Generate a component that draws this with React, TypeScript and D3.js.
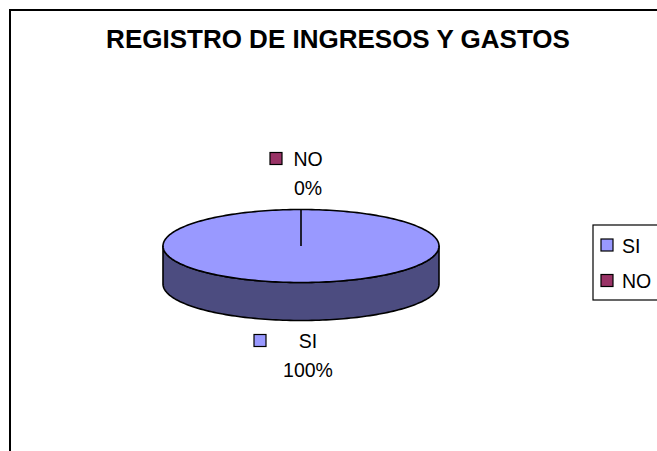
import React from 'react';
import * as d3 from 'd3';

const title = 'REGISTRO DE INGRESOS Y GASTOS';
const categories = ['SI', 'NO'];
const values = [100, 0];
const colors = ['#9999FF', '#993366'];
const sideColors = ['#4C4C80', '#4D1A33'];

const W = 657;
const H = 451;
const cx = 301;
const cy = 246;
const rx = 138;
const ry = 36.5;
const depth = 38;
const font = '"Liberation Sans", Arial, sans-serif';

// ellipse point for a d3 pie angle (0 = 12 o'clock, clockwise)
const pt = (a: number, dy = 0): [number, number] => [cx + rx * Math.sin(a), cy - ry * Math.cos(a) + dy];

const App = () => {
  const total = d3.sum(values);
  const arcs = d3.pie<number>().sort(null).value(d => d)(values);
  const line = d3.line();

  // visible wall: front half, angles PI/2 .. 3PI/2
  const sides = arcs.map((a, i) => {
    const s = Math.max(a.startAngle, Math.PI / 2);
    const e = Math.min(a.endAngle, Math.PI * 1.5);
    if (e <= s) return null;
    const n = 120;
    const top = d3.range(n + 1).map(k => pt(s + ((e - s) * k) / n));
    const bot = top.slice().reverse().map(p => [p[0], p[1] + depth] as [number, number]);
    return { i, d: line([...top, ...bot]) + 'Z' };
  }).filter(Boolean) as { i: number; d: string }[];

  const tops = arcs.map((a, i) => {
    if (a.endAngle - a.startAngle <= 0) return null;
    const n = 240;
    const pts = d3.range(n + 1).map(k => pt(a.startAngle + ((a.endAngle - a.startAngle) * k) / n));
    const full = a.endAngle - a.startAngle >= Math.PI * 2 - 1e-9;
    return { i, d: full ? line(pts) + 'Z' : line([[cx, cy], ...pts]) + 'Z' };
  }).filter(Boolean) as { i: number; d: string }[];

  const [bx, by] = pt(arcs[0].startAngle);

  const labels = arcs.map((a, i) => {
    const mid = (a.startAngle + a.endAngle) / 2;
    const below = Math.cos(mid) < 0;
    const x = cx + 7 + rx * Math.sin(mid);
    const y1 = below ? cy + ry + depth + 27 : cy - ry - 44;
    return { i, x, y1, y2: y1 + 29, pct: d3.format('.0%')(values[i] / total), gap: below ? 27 : 11 };
  });

  return (
    <svg width={W} height={H} style={{ position: 'absolute', left: 0, top: 0, background: '#fff' }}>
      <rect x={10} y={10} width={720} height={520} fill="#fff" stroke="#000" strokeWidth={2} />
      <text x={338} y={48} textAnchor="middle" fontFamily={font} fontWeight="bold" fontSize={26}>{title}</text>

      {sides.map(s => (
        <path key={'s' + s.i} d={s.d} fill={sideColors[s.i]} stroke="#000" strokeWidth={1.6} strokeLinejoin="round" />
      ))}
      {tops.map(t => (
        <path key={'t' + t.i} d={t.d} fill={colors[t.i]} stroke="#000" strokeWidth={1.6} strokeLinejoin="round" />
      ))}
      <line x1={cx} y1={cy} x2={bx} y2={by} stroke="#000" strokeWidth={1.6} />

      {labels.map(l => (
        <g key={'l' + l.i} fontFamily={font} fontSize={19.5}>
          <text x={l.x} y={l.y1} textAnchor="middle">{categories[l.i]}</text>
          <rect x={l.x - 15 - l.gap - 12} y={l.y1 - 13} width={12} height={12} fill={colors[l.i]} stroke="#000" strokeWidth={1.2} />
          <text x={l.x} y={l.y2} textAnchor="middle">{l.pct}</text>
        </g>
      ))}

      <g fontFamily={font} fontSize={19.5}>
        <rect x={593} y={225} width={90} height={75} fill="#fff" stroke="#000" strokeWidth={1.2} />
        {categories.map((c, i) => (
          <g key={c} transform={`translate(601,${239 + i * 35.5})`}>
            <rect x={0} y={0} width={12} height={12} fill={colors[i]} stroke="#000" strokeWidth={1.2} />
            <text x={21} y={13.5}>{c}</text>
          </g>
        ))}
      </g>
    </svg>
  );
};

export default App;
